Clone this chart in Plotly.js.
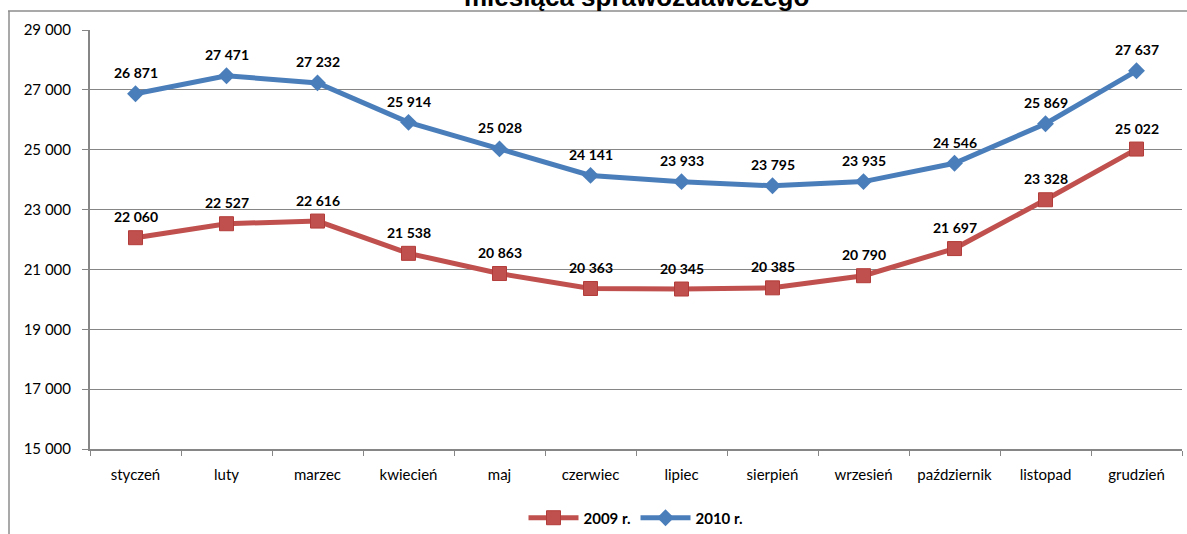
<!DOCTYPE html>
<html><head><meta charset="utf-8">
<script src="https://cdn.plot.ly/plotly-3.0.1.min.js"></script>
<style>body{margin:0;background:#fff}#c{width:1187px;height:534px}</style>
</head><body><div id="c"></div>
<script>
const months = ["styczeń","luty","marzec","kwiecień","maj","czerwiec","lipiec","sierpień","wrzesień","październik","listopad","grudzień"];
const v2009 = [22060,22527,22616,21538,20863,20363,20345,20385,20790,21697,23328,25022];
const v2010 = [26871,27471,27232,25914,25028,24141,23933,23795,23935,24546,25869,27637];
const yTicks = [15000,17000,19000,21000,23000,25000,27000,29000];

function fmt(n){return String(n).replace(/\B(?=(\d{3})+(?!\d))/g,' ');}
const font = "Lato, 'Open Sans', sans-serif";

const traces = [
  {x: months, y: v2009, name: "2009 r.", mode: "lines+markers", type: "scatter",
   line: {color: "#C0504D", width: 5}, marker: {symbol: "square", size: 14, color: "#C0504D", line:{color:"#B23C39",width:1}}},
  {x: months, y: v2010, name: "2010 r.", mode: "lines+markers", type: "scatter",
   line: {color: "#4A7EBB", width: 5}, marker: {symbol: "diamond", size: 13, color: "#4A7EBB"}}
];

const ann = [];
[v2009, v2010].forEach(arr => arr.forEach((v, i) => ann.push({
  x: months[i], y: v, xref: "x", yref: "y", text: "<b>" + fmt(v) + "</b>",
  showarrow: false, yshift: 21, font: {family: font, size: 14, color: "#000"}
})));
ann.push({x: 0.5, y: 1, xref: "paper", yref: "paper", yanchor: "bottom", yshift: 16,
  text: "<b>miesiąca sprawozdawczego</b>", showarrow: false,
  font: {family: "'Liberation Sans', Arial, sans-serif", size: 26, color: "#000"}});

const layout = {
  width: 1187, height: 534,
  margin: {l: 90, r: 5, t: 30, b: 85},
  paper_bgcolor: "#fff", plot_bgcolor: "#fff",
  showlegend: true,
  legend: {orientation: "h", x: 0.5, xanchor: "center", xref: "paper", y: 0.03, yref: "container", yanchor: "middle",
    font: {family: font, size: 15, color: "#000", weight: "bold"}, itemwidth: 50},
  xaxis: {type: "category", tickson: "boundaries", ticks: "outside", ticklen: 5, tickcolor: "#868686",
    showline: true, linecolor: "#868686", linewidth: 2, showgrid: false,
    tickfont: {family: font, size: 15, color: "#000"}, ticklabelstandoff: 11, range: [-0.5, 11.5]},
  yaxis: {range: [15000, 29000], tickvals: yTicks, ticktext: yTicks.map(fmt), ticks: "outside", ticklen: 6,
    tickcolor: "#868686", showline: true, linecolor: "#868686", linewidth: 2,
    gridcolor: "#868686", gridwidth: 1, zeroline: false,
    tickfont: {family: font, size: 15, color: "#000"}, ticklabelstandoff: 8},
  annotations: ann,
  shapes: [
    {type: "line", xref: "paper", yref: "paper", x0: -82/1092, x1: 1.02, y0: 1 + 19/419, y1: 1 + 19/419, line: {color: "#8c8c8c", width: 1.5}},
    {type: "line", xref: "paper", yref: "paper", x0: -81/1092, x1: -81/1092, y0: 1 + 19/419, y1: -0.3, line: {color: "#8c8c8c", width: 1.5}}
  ]
};
Plotly.newPlot("c", traces, layout, {displayModeBar: false, staticPlot: true});
</script></body></html>
